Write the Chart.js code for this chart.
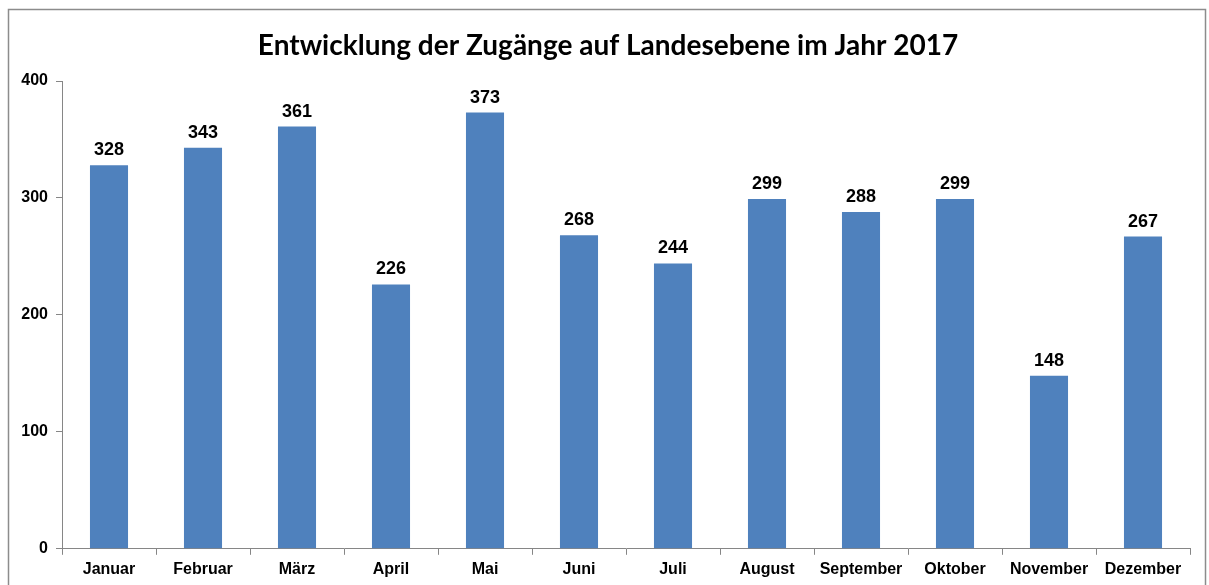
<!DOCTYPE html>
<html>
<head>
<meta charset="utf-8">
<script src="https://cdn.jsdelivr.net/npm/chart.js@4/dist/chart.umd.min.js"></script>
<style>
  html, body { margin: 0; padding: 0; background: #fff; }
  #wrap { width: 1209px; height: 585px; position: relative; }
</style>
</head>
<body>
<div id="wrap"><canvas id="chart" width="1209" height="585"></canvas></div>
<script>
const months = ['Januar', 'Februar', 'März', 'April', 'Mai', 'Juni', 'Juli', 'August', 'September', 'Oktober', 'November', 'Dezember']
const zugaenge = [328, 343, 361, 226, 373, 268, 244, 299, 288, 299, 148, 267]
const yTicks = [0, 100, 200, 300, 400]

const titleText = 'Entwicklung der Zugänge auf Landesebene im Jahr 2017'
const axisColor = '#868686'

// Frame, title and value labels
const decorations = {
    id: 'decorations',
    beforeDraw(chart) {
        const ctx = chart.ctx
        ctx.save()
        ctx.strokeStyle = '#8c8c8c'
        ctx.lineWidth = 1.5
        ctx.strokeRect(8.5, 9.5, 1197, 620)
        ctx.restore()
    },
    afterDatasetsDraw(chart) {
        const ctx = chart.ctx
        ctx.save()
        ctx.fillStyle = '#000'
        ctx.font = 'bold 28px Lato, "Open Sans", sans-serif'
        ctx.textAlign = 'center'
        ctx.textBaseline = 'middle'
        ctx.fillText(titleText, 608, 46)

        ctx.font = 'bold 18px "Liberation Sans", Arial, sans-serif'
        ctx.textBaseline = 'alphabetic'
        const meta = chart.getDatasetMeta(0)
        meta.data.forEach((bar, i) => {
            ctx.fillText(String(zugaenge[i]), bar.x, bar.y - 10)
        })
        ctx.restore()
    }
}

new Chart(document.getElementById('chart'), {
    type: 'bar',
    data: {
        labels: months,
        datasets: [{
            data: zugaenge,
            backgroundColor: '#4F81BD',
            borderWidth: 0,
            categoryPercentage: 1.0,
            barPercentage: 0.405
        }]
    },
    options: {
        responsive: false,
        animation: false,
        layout: {
            padding: { top: 81, right: 19, bottom: 1, left: 0 }
        },
        plugins: {
            legend: { display: false },
            title: { display: false },
            tooltip: { enabled: false }
        },
        scales: {
            x: {
                grid: {
                    offset: true,
                    drawOnChartArea: false,
                    drawTicks: true,
                    tickLength: 6,
                    color: axisColor
                },
                border: { display: true, color: axisColor, width: 1 },
                ticks: {
                    color: '#000',
                    padding: 5,
                    maxRotation: 0,
                    autoSkip: false,
                    font: { family: '"Liberation Sans", Arial, sans-serif', size: 16, weight: 'bold' }
                }
            },
            y: {
                min: 0,
                max: 400,
                afterBuildTicks(scale) {
                    scale.ticks = yTicks.map(v => ({ value: v }))
                },
                afterFit(scale) {
                    scale.width = 62
                },
                grid: {
                    drawOnChartArea: false,
                    drawTicks: true,
                    tickLength: 6,
                    color: axisColor
                },
                border: { display: true, color: axisColor, width: 1 },
                ticks: {
                    color: '#000',
                    padding: 8,
                    font: { family: '"Liberation Sans", Arial, sans-serif', size: 16, weight: 'bold' }
                }
            }
        }
    },
    plugins: [decorations]
})
</script>
</body>
</html>
